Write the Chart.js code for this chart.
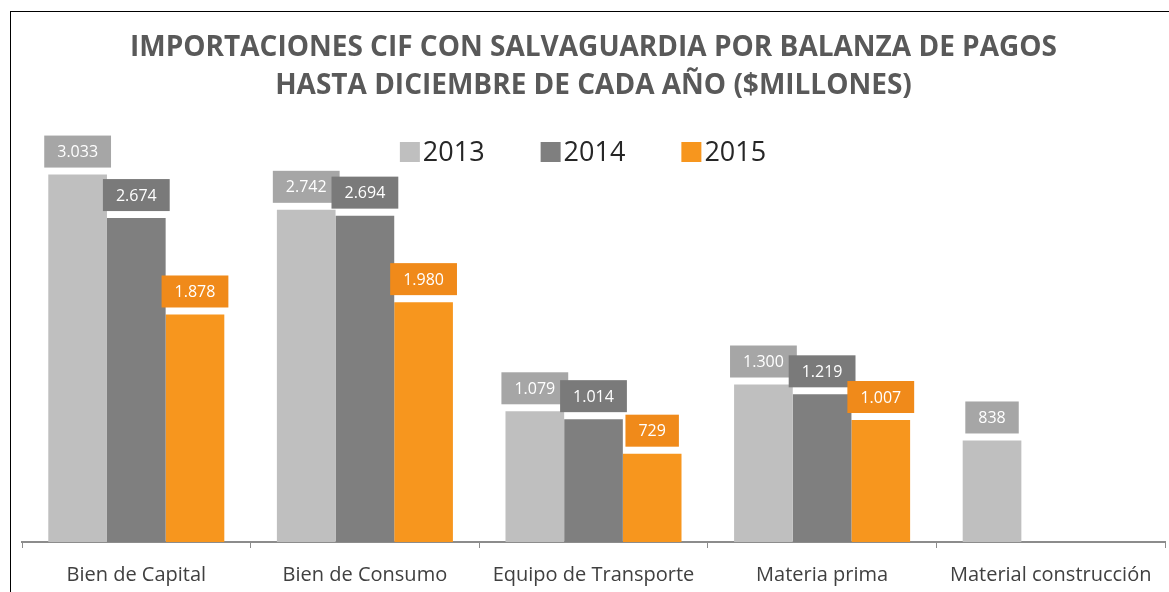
<!DOCTYPE html>
<html>
<head>
<meta charset="utf-8">
<script src="https://cdn.jsdelivr.net/npm/chart.js@4/dist/chart.umd.min.js"></script>
<style>
  html, body { margin: 0; padding: 0; background: #fff; overflow: hidden; }
  #wrap { position: relative; box-sizing: border-box;
          border-left: 1px solid #000; border-top: 1px solid #000; margin: 11px 0 0 10px;
          width: 1159px; height: 581px; }
</style>
</head>
<body>
<div id="wrap"><canvas id="myChart"></canvas></div>
<script>
// datos
var categorias = ['Bien de Capital', 'Bien de Consumo', 'Equipo de Transporte', 'Materia prima', 'Material construcción'];
var anios = ['2013', '2014', '2015'];
var valores2013 = [3033, 2742, 1079, 1300, 838];
var valores2014 = [2674, 2694, 1014, 1219, null];
var valores2015 = [1878, 1980, 729, 1007, null];

var coloresBarra = ['#bfbfbf', '#7f7f7f', '#f7961e'];
var coloresEtiqueta = ['#a6a6a6', '#7a7a7a', '#f08a1a'];

function formatoMiles(v) {
	return String(v).replace(/\B(?=(\d{3})+(?!\d))/g, '.');
}

// etiquetas con caja encima de cada barra
var etiquetasCaja = {
	id: 'etiquetasCaja',
	afterDatasetsDraw: function (chart) {
		var ctx = chart.ctx;
		ctx.save();
		ctx.font = '16px "Open Sans"';
		ctx.textAlign = 'center';
		ctx.textBaseline = 'middle';
		chart.data.datasets.forEach(function (ds, i) {
			var meta = chart.getDatasetMeta(i);
			meta.data.forEach(function (bar, j) {
				var v = ds.data[j];
				if (v === null || v === undefined) return;
				var txt = formatoMiles(v);
				var w = ctx.measureText(txt).width + 26;
				var h = 32;
				var bottom = bar.y - 7;
				ctx.fillStyle = coloresEtiqueta[i];
				ctx.fillRect(bar.x - w / 2, bottom - h, w, h);
				ctx.fillStyle = '#ffffff';
				ctx.fillText(txt, bar.x, bottom - h / 2 + 1);
			});
		});
		ctx.restore();
	}
};

// leyenda dentro del area del grafico
var leyendaArriba = {
	id: 'leyendaArriba',
	afterDraw: function (chart) {
		var ctx = chart.ctx;
		ctx.save();
		ctx.font = '27px "Open Sans"';
		ctx.textBaseline = 'middle';
		var caja = 20, hueco = 3, sep = 56;
		var anchos = anios.map(function (a) { return ctx.measureText(a).width; });
		var total = 0;
		anchos.forEach(function (a) { total += caja + hueco + a; });
		total += sep * (anios.length - 1);
		var x = 572 - total / 2;
		var y = 140;
		anios.forEach(function (a, i) {
			ctx.fillStyle = coloresBarra[i];
			ctx.fillRect(x, y - caja / 2, caja, caja);
			ctx.fillStyle = '#262626';
			ctx.fillText(a, x + caja + hueco, y + 1);
			x += caja + hueco + anchos[i] + sep;
		});
		ctx.restore();
	}
};

var datasets = [valores2013, valores2014, valores2015].map(function (vals, i) {
	return {
		label: anios[i],
		data: vals,
		backgroundColor: coloresBarra[i],
		borderWidth: 0,
		categoryPercentage: 0.77,
		barPercentage: 1.0
	};
});

var config = {
	type: 'bar',
	data: { labels: categorias, datasets: datasets },
	options: {
		responsive: true,
		maintainAspectRatio: false,
		animation: false,
		layout: { padding: { top: 1, left: 11, right: 4, bottom: -10 } },
		scales: {
			x: {
				grid: {
					display: true,
					offset: true,
					drawOnChartArea: false,
					drawTicks: true,
					tickLength: 6,
					color: '#8c8c8c'
				},
				border: { display: true, color: '#8c8c8c', width: 2 },
				ticks: {
					color: '#404040',
					font: { family: 'Open Sans', size: 20 },
					padding: 15,
					maxRotation: 0
				}
			},
			y: {
				display: false,
				min: 0,
				max: 3500
			}
		},
		plugins: {
			legend: { display: false },
			tooltip: { enabled: false },
			title: {
				display: true,
				text: ['IMPORTACIONES CIF CON SALVAGUARDIA POR BALANZA DE PAGOS', 'HASTA DICIEMBRE DE CADA AÑO ($MILLONES)'],
				color: '#595959',
				font: { family: 'Open Sans', size: 28, weight: 'bold', lineHeight: 1.357 },
				padding: { top: 16, bottom: 13 }
			}
		}
	},
	plugins: [etiquetasCaja, leyendaArriba]
};

new Chart(document.getElementById('myChart'), config);
</script>
</body>
</html>
